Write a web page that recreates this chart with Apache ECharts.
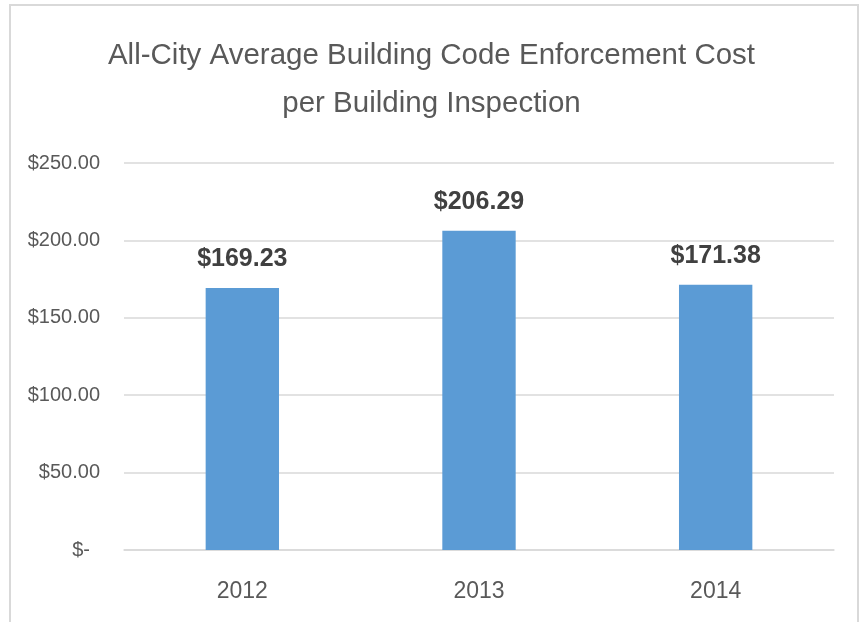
<!DOCTYPE html>
<html><head><meta charset="utf-8">
<script src="https://cdn.jsdelivr.net/npm/echarts@6/dist/echarts.min.js"></script>
<style>
html,body{margin:0;padding:0;background:#fff;}
#frame{position:absolute;left:9px;top:4px;width:850px;height:660px;border:2px solid #d9d9d9;box-sizing:border-box;}
#c{position:absolute;left:0;top:0;width:863px;height:622px;}
</style></head>
<body><div id="frame"></div><div id="c"></div>
<script>
var titleText = 'All-City Average Building Code Enforcement Cost\nper Building Inspection';
var categories = ['2012', '2013', '2014'];
var costValues = [169.23, 206.29, 171.38];
var yTicks = [0, 50, 100, 150, 200, 250];

var FONT = '"Liberation Sans", Arial, sans-serif';
var chart = echarts.init(document.getElementById('c'));
chart.setOption({
  animation: false,
  title: {
    text: titleText, left: 'center', top: 27, padding: [5, 5, 5, 13],
    textStyle: { fontFamily: FONT, fontSize: 29.5, fontWeight: 'normal', color: '#595959', lineHeight: 48 }
  },
  grid: { left: 124, right: 29, top: 163, bottom: 72 },
  xAxis: {
    type: 'category', data: categories,
    axisLine: { show: true, lineStyle: { color: '#d9d9d9', width: 1.5 } },
    axisTick: { show: false },
    axisLabel: { fontFamily: FONT, fontSize: 23, color: '#595959', margin: 30 }
  },
  yAxis: {
    type: 'value', min: yTicks[0], max: yTicks[yTicks.length - 1], interval: 50,
    axisLine: { show: false }, axisTick: { show: false },
    splitLine: { lineStyle: { color: '#d9d9d9', width: 1.5 } },
    axisLabel: {
      fontFamily: FONT, fontSize: 20, color: '#595959', margin: 24,
      formatter: function (v) { return v === 0 ? '{z|$-}' : '$' + v.toFixed(2); },
      rich: { z: { fontFamily: FONT, fontSize: 20, color: '#595959', padding: [0, 10, 0, 0] } }
    }
  },
  series: [{
    type: 'bar', data: costValues, barWidth: '31%',
    itemStyle: { color: '#5b9bd5' },
    label: {
      show: true, position: 'top', distance: 16,
      fontFamily: FONT, fontSize: 25, fontWeight: 'bold', color: '#404040',
      formatter: function (p) { return '$' + p.value.toFixed(2); }
    }
  }]
});
</script></body></html>
